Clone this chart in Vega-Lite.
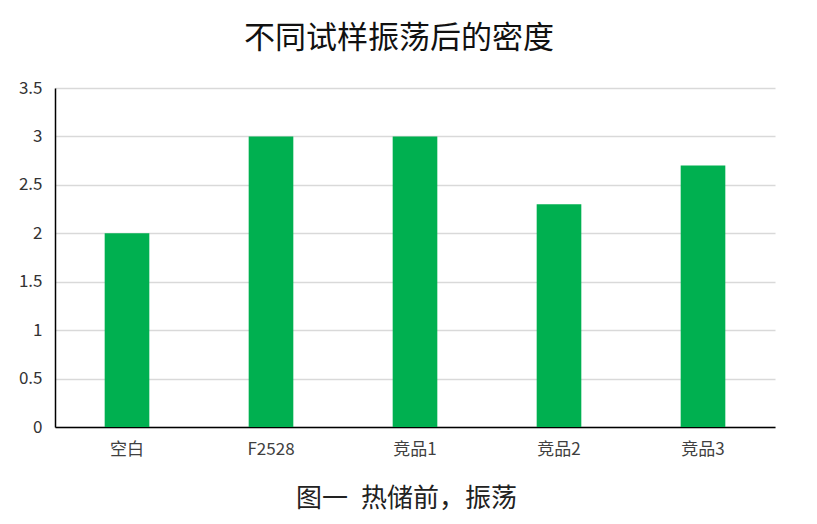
{
  "$schema": "https://vega.github.io/schema/vega-lite/v6.json",
  "width": 720,
  "height": 339,
  "autosize": {"type": "none"},
  "padding": {"left": 55, "top": 88, "right": 42, "bottom": 97},
  "background": "white",
  "title": {
    "text": "不同试样振荡后的密度",
    "font": "Noto Sans CJK SC",
    "fontSize": 31,
    "fontWeight": "normal",
    "color": "#111111",
    "anchor": "middle",
    "offset": 24,
    "dx": -16
  },
  "data": {
    "values": [
      {"sample": "空白", "density": 2.0},
      {"sample": "F2528", "density": 3.0},
      {"sample": "竞品1", "density": 3.0},
      {"sample": "竞品2", "density": 2.3},
      {"sample": "竞品3", "density": 2.7}
    ]
  },
  "mark": {"type": "bar", "color": "#00B050"},
  "encoding": {
    "x": {
      "field": "sample",
      "type": "nominal",
      "sort": null,
      "scale": {"paddingInner": 0.69, "paddingOuter": 0.345},
      "axis": {
        "title": "图一\u2002热储前，振荡",
        "titleFont": "Noto Sans CJK SC",
        "titleFontSize": 26,
        "titleFontWeight": "normal",
        "titleColor": "#222222",
        "titlePadding": 28,
        "titleX": 351,
        "labelAngle": 0,
        "labelFont": "Noto Sans CJK SC",
        "labelFontSize": 17,
        "labelColor": "#404040",
        "labelPadding": 14,
        "ticks": false,
        "domainColor": "#000000",
        "domainWidth": 1.5
      }
    },
    "y": {
      "field": "density",
      "type": "quantitative",
      "scale": {"domain": [0, 3.5]},
      "axis": {
        "title": null,
        "values": [0, 0.5, 1, 1.5, 2, 2.5, 3, 3.5],
        "format": "~g",
        "labelFont": "Noto Sans CJK SC",
        "labelFontSize": 17,
        "labelColor": "#333333",
        "labelPadding": 13,
        "ticks": false,
        "domainColor": "#000000",
        "domainWidth": 1.5,
        "gridColor": "#d9d9d9",
        "gridWidth": 1.5
      }
    }
  },
  "config": {
    "view": {"stroke": null}
  }
}
